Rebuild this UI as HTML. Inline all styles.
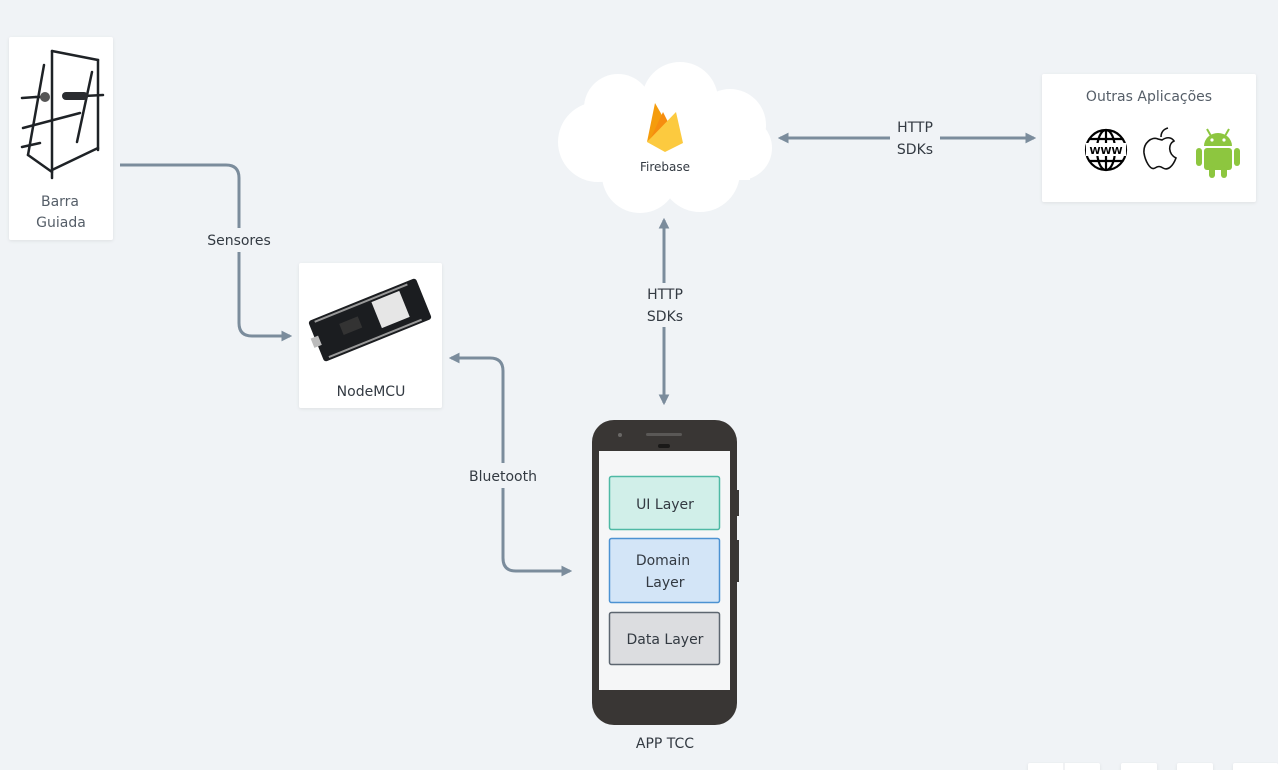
<!DOCTYPE html>
<html><head><meta charset="utf-8">
<style>
html,body{margin:0;padding:0;background:#f0f3f6;}
svg{display:block;font-family:"DejaVu Sans","Liberation Sans",sans-serif;}
</style></head>
<body>
<svg width="1278" height="770" viewBox="0 0 1278 770" xmlns="http://www.w3.org/2000/svg">
<defs>
<filter id="sh" x="-10%" y="-10%" width="120%" height="120%"><feDropShadow dx="0" dy="1" stdDeviation="1.5" flood-color="#000" flood-opacity="0.08"/></filter>
<marker id="ar" viewBox="0 0 10 10" refX="8" refY="5" markerWidth="3.6" markerHeight="3.6" orient="auto-start-reverse"><path d="M0,0 L10,5 L0,10 z" fill="#7b8c9c"/></marker>
</defs>
<rect width="1278" height="770" fill="#f0f3f6"/>

<!-- Barra box -->
<rect x="9" y="37" width="104" height="203" rx="2" fill="#fff" filter="url(#sh)"/>
<g stroke="#1e2226" stroke-width="2.5" fill="none" stroke-linecap="round">
<line x1="52" y1="51" x2="98" y2="60"/>
<line x1="52" y1="51" x2="52" y2="178"/>
<line x1="98" y1="60" x2="98" y2="150"/>
<line x1="44" y1="65" x2="28" y2="155"/>
<line x1="92" y1="72" x2="77" y2="142"/>
<line x1="23" y1="128" x2="80" y2="113"/>
<line x1="22" y1="147" x2="40" y2="143"/>
<line x1="28" y1="155" x2="52" y2="172"/>
<line x1="52" y1="170" x2="98" y2="148"/>
<line x1="36" y1="97" x2="44" y2="97"/>
<line x1="65" y1="97" x2="103" y2="95"/>
<line x1="22" y1="98" x2="36" y2="97"/>
</g>
<rect x="62" y="92" width="26" height="8" rx="4" fill="#2a2c30"/>
<circle cx="45" cy="97" r="5" fill="#555"/>
<text x="60" y="206" font-size="14" fill="#555e68" text-anchor="middle">Barra</text>
<text x="61" y="227" font-size="14" fill="#555e68" text-anchor="middle">Guiada</text>

<!-- NodeMCU box -->
<rect x="299" y="263" width="143" height="145" rx="2" fill="#fff" filter="url(#sh)"/>
<g transform="translate(370,320) rotate(-22)">
<rect x="-58" y="-22" width="116" height="44" rx="3" fill="#1b1d20"/>
<rect x="8" y="-16" width="30" height="28" fill="#e6e6e6"/>
<g fill="#999"><rect x="-52" y="-20" width="100" height="2"/><rect x="-52" y="18" width="100" height="2"/></g>
<rect x="-30" y="-8" width="20" height="12" fill="#333"/>
<rect x="-62" y="-5" width="8" height="10" fill="#bbb"/>
</g>
<text x="371" y="396" font-size="14" fill="#333a42" text-anchor="middle">NodeMCU</text>

<!-- Cloud -->
<g fill="#fff">
<circle cx="618" cy="108" r="34"/>
<circle cx="680" cy="100" r="38"/>
<circle cx="730" cy="125" r="36"/>
<circle cx="598" cy="142" r="40"/>
<circle cx="740" cy="148" r="32"/>
<circle cx="640" cy="175" r="38"/>
<circle cx="700" cy="172" r="40"/>
<rect x="600" y="110" width="150" height="70"/>
</g>
<path d="M647,142 L655,103 L667,124 Z" fill="#f59c0c"/>
<path d="M649,142 L663,112 L672,130 Z" fill="#f68d0f"/>
<path d="M647,142 L676,112 L683,143 L665,152 Z" fill="#fcca3f"/>
<text x="665" y="171" font-size="12" fill="#333a42" text-anchor="middle">Firebase</text>

<!-- Outras -->
<rect x="1042" y="74" width="214" height="128" rx="2" fill="#fff" filter="url(#sh)"/>
<text x="1149" y="101" font-size="14" fill="#555e68" text-anchor="middle">Outras Aplicações</text>
<g stroke="#000" stroke-width="2.2" fill="none">
<circle cx="1106" cy="150" r="20"/>
<ellipse cx="1106" cy="150" rx="9" ry="20"/>
<line x1="1106" y1="130" x2="1106" y2="170"/>
<line x1="1089" y1="139" x2="1123" y2="139"/>
<line x1="1089" y1="161" x2="1123" y2="161"/>
</g>
<rect x="1086" y="143" width="40" height="13" fill="#fff"/>
<text x="1106" y="154" font-size="10" font-weight="bold" text-anchor="middle" fill="#000">WWW</text>
<path d="M1162,140 C1168,136 1172,138 1174,141 C1168,144 1168,154 1176,158 C1173,166 1168,171 1163,168 C1160,166 1158,166 1155,168 C1150,171 1145,160 1144,153 C1143,143 1152,136 1158,139 Z M1161,137 C1161,132 1164,129 1168,128" fill="none" stroke="#111" stroke-width="1.6"/>
<g fill="#8dc63f">
<path d="M1204,146 A14,13 0 0 1 1232,146 Z"/>
<rect x="1204" y="148" width="28" height="22" rx="3"/>
<rect x="1196" y="148" width="6" height="18" rx="3"/>
<rect x="1234" y="148" width="6" height="18" rx="3"/>
<rect x="1209" y="166" width="6" height="12" rx="3"/>
<rect x="1221" y="166" width="6" height="12" rx="3"/>
<line x1="1207" y1="129" x2="1211" y2="136" stroke="#8dc63f" stroke-width="2"/>
<line x1="1229" y1="129" x2="1225" y2="136" stroke="#8dc63f" stroke-width="2"/>
</g>
<circle cx="1212" cy="140" r="1.6" fill="#fff"/><circle cx="1224" cy="140" r="1.6" fill="#fff"/>

<!-- Phone -->
<rect x="735" y="490" width="4" height="26" fill="#3a3836"/>
<rect x="735" y="540" width="4" height="42" fill="#3a3836"/>
<rect x="592" y="420" width="145" height="305" rx="22" fill="#393634"/>
<rect x="599" y="451" width="131" height="239" fill="#f5f6f7"/>
<circle cx="620" cy="435" r="2" fill="#6a6866"/>
<rect x="646" y="433" width="36" height="3" rx="1.5" fill="#5a5856"/>
<rect x="658" y="444" width="12" height="4" rx="2" fill="#1a1918"/>
<rect x="609.5" y="476.5" width="110" height="53" rx="2" fill="#d1efe9" stroke="#4fb9a5" stroke-width="1.5"/>
<text x="665" y="509" font-size="14" fill="#333a42" text-anchor="middle">UI Layer</text>
<rect x="609.5" y="538.5" width="110" height="64" rx="2" fill="#d3e5f7" stroke="#4c92d2" stroke-width="1.5"/>
<text x="663" y="565" font-size="14" fill="#333a42" text-anchor="middle">Domain</text>
<text x="665" y="587" font-size="14" fill="#333a42" text-anchor="middle">Layer</text>
<rect x="609.5" y="612.5" width="110" height="52" rx="2" fill="#dcdde0" stroke="#5d6670" stroke-width="1.5"/>
<text x="665" y="644" font-size="14" fill="#333a42" text-anchor="middle">Data Layer</text>
<text x="665" y="748" font-size="14" fill="#333a42" text-anchor="middle">APP TCC</text>

<!-- Connectors -->
<g stroke="#7b8c9c" stroke-width="3" fill="none">
<path d="M120,165 H226 Q239,165 239,178 V228"/>
<path d="M239,252 V323 Q239,336 252,336 H290" marker-end="url(#ar)"/>
<path d="M451,358 H490 Q503,358 503,371 V463" marker-start="url(#ar)"/>
<path d="M503,488 V558 Q503,571 516,571 H570" marker-end="url(#ar)"/>
<path d="M664,220 V283" marker-start="url(#ar)"/>
<path d="M664,327 V403" marker-end="url(#ar)"/>
<path d="M780,138 H890" marker-start="url(#ar)"/>
<path d="M940,138 H1034" marker-end="url(#ar)"/>
</g>
<g font-size="14" fill="#333a42" text-anchor="middle">
<text x="239" y="245">Sensores</text>
<text x="503" y="481">Bluetooth</text>
<text x="665" y="299">HTTP</text>
<text x="665" y="321">SDKs</text>
<text x="915" y="132">HTTP</text>
<text x="915" y="154">SDKs</text>
</g>

<!-- bottom toolbar -->
<g fill="#fff" filter="url(#sh)">
<rect x="1028" y="763" width="72" height="10" rx="2"/>
<rect x="1121" y="763" width="36" height="10" rx="2"/>
<rect x="1177" y="763" width="36" height="10" rx="2"/>
<rect x="1233" y="763" width="45" height="10" rx="2"/>
</g>
<line x1="1064" y1="763" x2="1064" y2="770" stroke="#e3e6ea"/>
</svg>
</body></html>
